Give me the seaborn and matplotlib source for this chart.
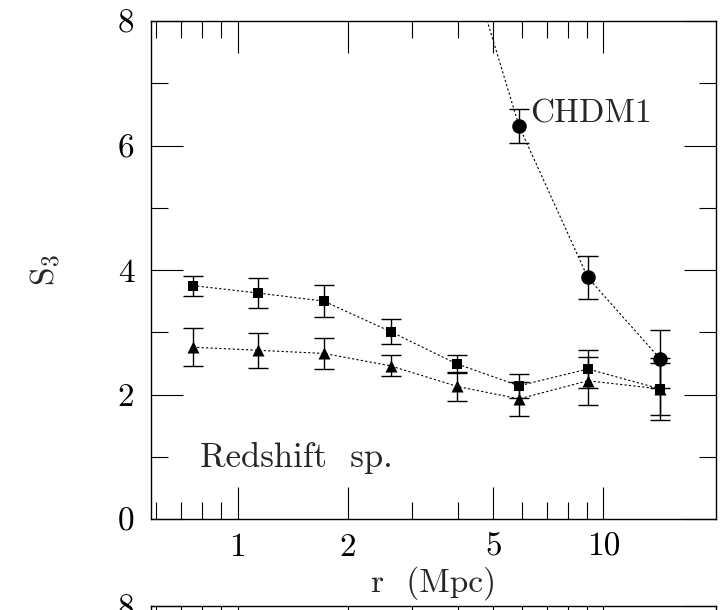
import numpy as np
import pandas as pd
import matplotlib
matplotlib.use("Agg")
import matplotlib.pyplot as plt
import seaborn as sns

# ---- data ----
r_sq = [0.754, 1.138, 1.72, 2.62, 3.98, 5.88, 9.06, 14.3]
s3_sq = [3.75, 3.63, 3.50, 3.01, 2.49, 2.14, 2.41, 2.09]
err_sq = [0.16, 0.24, 0.26, 0.20, 0.14, 0.19, 0.30, 0.42]

r_tri = [0.754, 1.138, 1.72, 2.62, 3.98, 5.88, 9.06, 14.3]
s3_tri = [2.76, 2.71, 2.66, 2.46, 2.13, 1.93, 2.22, 2.09]
err_tri = [0.31, 0.28, 0.25, 0.17, 0.23, 0.27, 0.39, 0.50]

r_circ = [3.98, 5.88, 9.06, 14.3]
s3_circ = [9.6, 6.31, 3.88, 2.57]
err_circ = [0.0, 0.27, 0.35, 0.47]

x_major = [1, 2, 5, 10]
x_major_labels = ["1", "2", "5", "10"]
x_minor = [0.6, 0.7, 0.8, 0.9, 3, 4, 6, 7, 8, 9]
y_major = [0, 2, 4, 6, 8]
y_major_labels = ["0", "2", "4", "6", "8"]
y_minor = [1, 3, 5, 7]

sns.set_style("ticks")
plt.rcParams["mathtext.fontset"] = "cm"
plt.rcParams["font.family"] = ["cmr10", "DejaVu Serif"]
plt.rcParams["axes.unicode_minus"] = False

FS = 24
W, H = 725, 610
fig = plt.figure(figsize=(W / 100, H / 100), dpi=100)
L, R, T, B = 151, 716, 21, 519
ax = fig.add_axes([L / W, 1 - B / H, (R - L) / W, (B - T) / H])

def style_axes(a):
    a.set_xscale("log")
    a.set_xlim(0.58, 20.3)
    a.set_ylim(0, 8)
    a.set_xticks(x_major)
    a.set_xticks(x_minor, minor=True)
    a.set_yticks(y_major)
    a.set_yticks(y_minor, minor=True)
    a.tick_params(which="both", direction="in", top=True, right=True,
                  width=0.8, colors="black")
    a.tick_params(which="major", length=23)
    a.tick_params(which="minor", length=12)
    a.tick_params(axis="x", which="minor", labelbottom=False)
    for s in a.spines.values():
        s.set_linewidth(1.0)
        s.set_color("black")
        s.set_visible(True)

style_axes(ax)
ax.set_xticklabels(x_major_labels, fontsize=FS)
ax.set_yticklabels(y_major_labels, fontsize=FS)
ax.tick_params(axis="x", which="major", pad=10)
ax.tick_params(axis="y", which="major", pad=12)

line_kw = dict(color="black", linewidth=0.8, linestyle=(0, (2, 2)))

df_sq = pd.DataFrame({"r": r_sq, "s3": s3_sq})
df_tri = pd.DataFrame({"r": r_tri, "s3": s3_tri})
df_circ = pd.DataFrame({"r": r_circ, "s3": s3_circ})

sns.lineplot(data=df_sq, x="r", y="s3", ax=ax, estimator=None, sort=False, **line_kw)
sns.lineplot(data=df_tri, x="r", y="s3", ax=ax, estimator=None, sort=False, **line_kw)
sns.lineplot(data=df_circ, x="r", y="s3", ax=ax, estimator=None, sort=False, **line_kw)

eb = dict(fmt="none", ecolor="black", elinewidth=1.0, capsize=7, capthick=1.0)
ax.errorbar(r_sq, s3_sq, yerr=err_sq, **eb)
ax.errorbar(r_tri, s3_tri, yerr=err_tri, **eb)
ax.errorbar(r_circ, s3_circ, yerr=err_circ, **eb)

sns.scatterplot(x=r_sq, y=s3_sq, ax=ax, marker="s", s=55, color="black",
                edgecolor="black", linewidth=0, zorder=5)
sns.scatterplot(x=r_tri, y=s3_tri, ax=ax, marker="^", s=75, color="black",
                edgecolor="black", linewidth=0, zorder=5)
sns.scatterplot(x=r_circ, y=s3_circ, ax=ax, marker="o", s=110, color="black",
                edgecolor="black", linewidth=0, zorder=5)

ax.set_xlabel("r  (Mpc)", fontsize=FS, labelpad=3)
ax.set_ylabel(r"$\mathrm{S}_{3}$", fontsize=FS, labelpad=40)

ax.text(0.79, 0.98, "Redshift  sp.", fontsize=FS + 1, ha="left", va="center")
ax.text(6.3, 6.5, "CHDM1", fontsize=FS, ha="left", va="center")

# top of the next panel, cut off by the figure edge
T2 = 606
ax2 = fig.add_axes([L / W, 1 - (T2 + (B - T)) / H, (R - L) / W, (B - T) / H])
style_axes(ax2)
ax2.set_xticklabels([])
ax2.set_yticklabels(y_major_labels, fontsize=FS)
ax2.tick_params(axis="y", which="major", pad=12)

fig.savefig("out.png", dpi=100)
